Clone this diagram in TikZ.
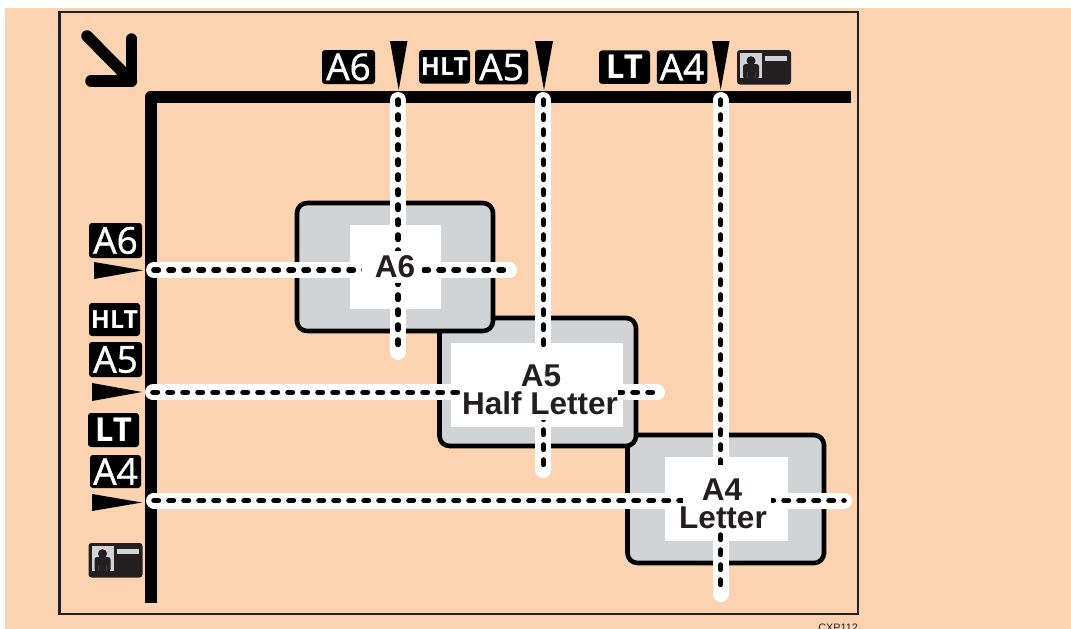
\documentclass[tikz,border=0pt]{standalone}
\usepackage{fontspec}
\setmainfont{Liberation Sans}
\newfontfamily\tagfont[FakeBold=1.1]{Open Sans}
\newfontfamily\tagfontb[BoldFont={Open Sans Bold}]{Open Sans}
\definecolor{peach}{HTML}{FCD3B1}
\definecolor{paper}{HTML}{D1D3D4}
\definecolor{ink}{HTML}{231F20}
\tikzset{x=1pt,y=-1pt,
  framebox/.style={draw=ink,line width=2.4pt,fill=none},
  rail/.style={line width=12pt,black,line join=round},
  paperbox/.style={draw=black,line width=4.6pt,fill=paper,rounded corners=10pt},
  whitebox/.style={fill=white},
  tagbox/.style={fill=black,rounded corners=3pt,inner sep=0pt,text=white,font=\tagfont\fontsize{37}{37}\selectfont,align=center},
  hltbox/.style={tagbox,font=\tagfontb\bfseries\fontsize{25}{25}\selectfont},
  ltbox/.style={tagbox,font=\tagfontb\bfseries\fontsize{33}{33}\selectfont},
  lbl/.style={text=ink,font=\bfseries\fontsize{31.5}{30}\selectfont,align=center,inner sep=0pt},
  code/.style={text=ink,font=\fontsize{10.8}{11}\selectfont,inner sep=0pt},
  guidewhite/.style={draw=white,line width=16pt,line cap=round},
  guideblack/.style={draw=black,line width=5.6pt,line cap=round,dash pattern=on 4.4pt off 10.6pt},
  tick/.style={fill=black},
}
\newcommand{\idcard}[2]{%
  \begin{scope}[shift={(#1,#2)}]
    \fill[ink,rounded corners=3pt] (0,0) rectangle (54,34.5);
    \fill[paper] (3,3) rectangle (25,28);
    \fill[ink] (14,10.7) circle (4.5);
    \fill[ink,rounded corners=2.5pt] (6,28.5) -- (6,14) -- (22,14) -- (22,28.5) -- cycle;
    \fill[paper] (28,6) rectangle (50,11);
    \draw[black!70!paper,line width=.7pt] (10,22) -- (10,28) (18,22) -- (18,28);
  \end{scope}}
\begin{document}
\begin{tikzpicture}
\useasboundingbox (0,0) rectangle (1071,629);
\fill[peach] (5,8) rectangle (1071,629);
\draw[framebox] (59.3,12.2) rectangle (858,614);
% corner arrow
\draw[line width=11.5pt,black,line cap=round] (87,36) -- (131.5,81);
\draw[line width=11.5pt,black,line cap=round,line join=round] (131.5,39) -- (131.5,81) -- (91,81);
% rails
\draw[rail] (851,96.7) -- (151,96.7) -- (151,602.7);
% papers
\draw[paperbox] (627.5,435) rectangle (824,563);
\fill[whitebox] (665,457) rectangle (788,541);
\draw[paperbox] (439.5,318) rectangle (636,446);
\fill[whitebox] (451,343) rectangle (623,427);
\draw[paperbox] (297,203) rectangle (493,331);
\fill[whitebox] (350,225) rectangle (441,309);
% guides
\coordinate (v1a) at (398,100); \coordinate (v1b) at (398,352);
\coordinate (v2a) at (543.4,100); \coordinate (v2b) at (543.4,470);
\coordinate (v3a) at (720.6,100); \coordinate (v3b) at (720.6,594);
\coordinate (h1a) at (154,270); \coordinate (h1b) at (509,270);
\coordinate (h2a) at (153,392.3); \coordinate (h2b) at (657,392.3);
\coordinate (h3a) at (154,500.5); \coordinate (h3b) at (844,500.5);
\foreach \a/\b in {v1a/v1b,v2a/v2b,v3a/v3b,h1a/h1b,h2a/h2b,h3a/h3b}{\draw[guidewhite] (\a) -- (\b);}
\foreach \a/\b in {v1a/v1b,v2a/v2b,v3a/v3b,h1a/h1b,h2a/h2b,h3a/h3b}{\draw[guideblack] (\a) -- (\b);}
% label patches
\fill[white] (362,251) rectangle (422,283);
\fill[white] (460,352) rectangle (618,419.5);
\fill[white] (683,465) rectangle (771,532);
\node[lbl] (la6) at (395,266.5) {A6};
\node[lbl] (la5) at (541,376) {A5};
\node[lbl] (lhl) at (540,403) {Half Letter};
\node[lbl] (la4) at (722,489.5) {A4};
\node[lbl] (llt) at (723,517.5) {Letter};
% top ticks
\fill[tick] (390,41) -- (407.5,41) -- (398.7,90) -- cycle;
\fill[tick] (535,41) -- (553,41) -- (544,90) -- cycle;
\fill[tick] (712,41) -- (729.5,41) -- (720.7,90) -- cycle;
% left ticks
\fill[tick] (94,262) -- (94,279) -- (143,270.3) -- cycle;
\fill[tick] (92,383) -- (92,401) -- (142,392) -- cycle;
\fill[tick] (92,494) -- (92,511) -- (142,502.5) -- cycle;
% top tags
\node[tagbox,minimum width=53pt,minimum height=34pt] (ta6) at (348.5,67) {A6};
\node[hltbox,minimum width=51pt,minimum height=33.5pt] (thlt) at (444.5,66.8) {HLT};
\node[tagbox,minimum width=53pt,minimum height=34.5pt] (ta5) at (501.5,67.2) {A5};
\node[ltbox,minimum width=51pt,minimum height=33.5pt] (tlt) at (624.5,67.2) {LT};
\node[tagbox,minimum width=50.5pt,minimum height=33.5pt] (ta4) at (682,67.2) {A4};
\idcard{737}{50}
% left tags
\node[tagbox,minimum width=53pt,minimum height=35pt] (la6t) at (115.5,240.5) {A6};
\node[hltbox,minimum width=51pt,minimum height=33pt] (lhlt) at (114.5,319.5) {HLT};
\node[tagbox,minimum width=53pt,minimum height=35pt] (la5t) at (115.5,359.5) {A5};
\node[ltbox,minimum width=51pt,minimum height=34pt] (llt2) at (113.5,430) {LT};
\node[tagbox,minimum width=51pt,minimum height=33pt] (la4t) at (115.5,471.5) {A4};
\idcard{88.5}{543}
\node[code,anchor=base east] (cxp) at (858,631) {CXP112};
\end{tikzpicture}
\end{document}
